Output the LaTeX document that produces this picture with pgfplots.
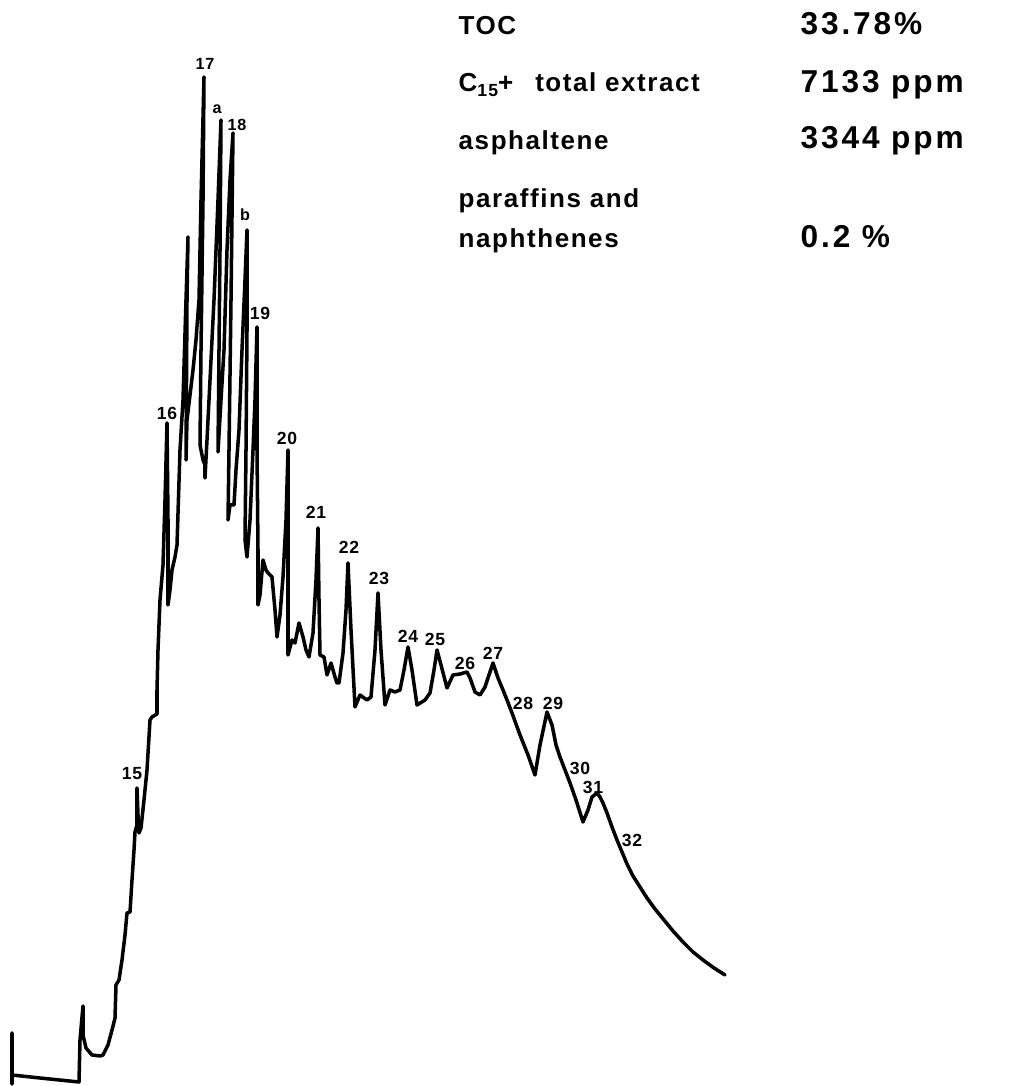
\documentclass[border=0pt]{standalone}
\usepackage{pgfplots}
\pgfplotsset{compat=1.18}
\usepackage{fontspec}
\setmainfont{Liberation Sans}[LetterSpace=6]
\newfontfamily\lbl{Liberation Sans}[LetterSpace=4]
\newfontfamily\num{Liberation Sans}[LetterSpace=9]
\begin{document}
\begin{tikzpicture}
\begin{axis}[width=102.2mm,height=108.6mm,scale only axis,
  xmin=0,xmax=1022,ymin=-1086,ymax=0,hide axis,clip=false]
\path (axis cs:0,-1086) rectangle (axis cs:1022,0);
\addplot[black,line width=1pt,line join=round,line cap=round] table[x=x,y expr=-\thisrow{y}] {
x y
12 1033
12 1084
12 1075
40 1078
79 1082
80 1040
83 1006
83 1035
86 1048
92 1055
100 1056
103 1055
108 1045
112 1030
115 1018
116 985
119 980
122 960
125 935
127 913
130 912
132 880
134 850
135 832
137 825
137 788
138 815
139 833
141 828
144 800
147 770
150 720
152 717
157 714
157 690
158 650
160 600
163 565
165 500
167 423
168 520
168 605
170 590
172 570
175 557
177 545
180 450
183 400
186 300
188 237
187 300
186 460
187 420
190 395
193 370
196 340
199 300
201 200
204 77
203 200
201 350
200 445
203 460
205 465
205 478
207 440
210 380
214 300
218 200
221 120
220 250
219 350
218 452
221 400
224 350
227 250
230 180
233 133
231 300
229 450
228 520
230 505
234 505
236 470
239 430
242 350
245 280
247 230
247 330
246 450
245 540
247 557
250 520
253 450
255 400
257 327
257 450
258 550
258 605
260 595
263 560
266 570
268 573
272 577
275 610
277 637
280 615
283 577
286 520
288 450
288 550
288 655
292 640
295 643
299 623
303 637
306 650
309 657
313 633
316 580
318 528
319 600
320 655
324 657
327 675
331 663
335 677
337 683
339 683
343 653
346 610
348 563
351 630
355 707
360 695
367 700
371 697
375 650
378 593
381 650
385 705
390 690
395 692
400 690
404 670
408 647
412 670
417 705
425 700
430 693
434 670
437 650
441 665
447 688
453 675
460 674
467 672
470 678
475 692
480 695
485 687
489 675
493 663
498 678
503 690
507 700
512 713
520 735
528 755
535 775
540 745
547 712
552 725
556 745
560 757
565 770
570 783
576 800
583 822
588 810
592 797
597 793
600 797
603 803
607 813
612 827
617 840
622 852
627 864
633 876
640 887
647 898
655 909
664 920
673 931
683 942
693 952
703 960
714 968
725 975
};
% peak labels
\node[font=\lbl\bfseries\fontsize{5}{5}\selectfont] at (axis cs:132,-774) {15};
\node[font=\lbl\bfseries\fontsize{5}{5}\selectfont] at (axis cs:167,-413) {16};
\node[font=\lbl\bfseries\fontsize{4.6}{5}\selectfont] at (axis cs:205,-64) {17};
\node[font=\lbl\bfseries\fontsize{4.6}{5}\selectfont] at (axis cs:217,-109) {a};
\node[font=\lbl\bfseries\fontsize{4.6}{5}\selectfont] at (axis cs:237,-125) {18};
\node[font=\lbl\bfseries\fontsize{4.6}{5}\selectfont] at (axis cs:245,-215) {b};
\node[font=\lbl\bfseries\fontsize{5}{5}\selectfont] at (axis cs:260,-313) {19};
\node[font=\lbl\bfseries\fontsize{5}{5}\selectfont] at (axis cs:287,-438) {20};
\node[font=\lbl\bfseries\fontsize{5}{5}\selectfont] at (axis cs:316,-512) {21};
\node[font=\lbl\bfseries\fontsize{5}{5}\selectfont] at (axis cs:349,-547) {22};
\node[font=\lbl\bfseries\fontsize{5}{5}\selectfont] at (axis cs:379,-578) {23};
\node[font=\lbl\bfseries\fontsize{5}{5}\selectfont] at (axis cs:408,-636) {24};
\node[font=\lbl\bfseries\fontsize{5}{5}\selectfont] at (axis cs:435,-639) {25};
\node[font=\lbl\bfseries\fontsize{5}{5}\selectfont] at (axis cs:465,-663) {26};
\node[font=\lbl\bfseries\fontsize{5}{5}\selectfont] at (axis cs:493,-653) {27};
\node[font=\lbl\bfseries\fontsize{5}{5}\selectfont] at (axis cs:523,-703) {28};
\node[font=\lbl\bfseries\fontsize{5}{5}\selectfont] at (axis cs:553,-703) {29};
\node[font=\lbl\bfseries\fontsize{5}{5}\selectfont] at (axis cs:580,-768) {30};
\node[font=\lbl\bfseries\fontsize{5}{5}\selectfont] at (axis cs:593,-787) {31};
\node[font=\lbl\bfseries\fontsize{5}{5}\selectfont] at (axis cs:632,-840) {32};
% info block
\node[anchor=base west,inner sep=0pt,font=\bfseries\fontsize{7.4}{8}\selectfont] at (axis cs:458,-35) {TOC};
\node[anchor=base west,inner sep=0pt,font=\bfseries\fontsize{7.4}{8}\selectfont] at (axis cs:458,-92) {C{\fontsize{5}{5}\selectfont\raisebox{-1.2pt}{15}}+\hspace{2.2mm}total extract};
\node[anchor=base west,inner sep=0pt,font=\bfseries\fontsize{7.4}{8}\selectfont] at (axis cs:458,-150) {asphaltene};
\node[anchor=base west,inner sep=0pt,font=\bfseries\fontsize{7.4}{8}\selectfont] at (axis cs:458,-208) {paraffins and};
\node[anchor=base west,inner sep=0pt,font=\bfseries\fontsize{7.4}{8}\selectfont] at (axis cs:458,-248) {naphthenes};
\node[anchor=base west,inner sep=0pt,font=\num\bfseries\fontsize{9}{9}\selectfont] at (axis cs:800,-35) {33.78\%};
\node[anchor=base west,inner sep=0pt,font=\num\bfseries\fontsize{9}{9}\selectfont] at (axis cs:800,-93) {7133 ppm};
\node[anchor=base west,inner sep=0pt,font=\num\bfseries\fontsize{9}{9}\selectfont] at (axis cs:800,-149) {3344 ppm};
\node[anchor=base west,inner sep=0pt,font=\num\bfseries\fontsize{9}{9}\selectfont] at (axis cs:800,-248) {0.2 \%};
\end{axis}
\end{tikzpicture}
\end{document}
